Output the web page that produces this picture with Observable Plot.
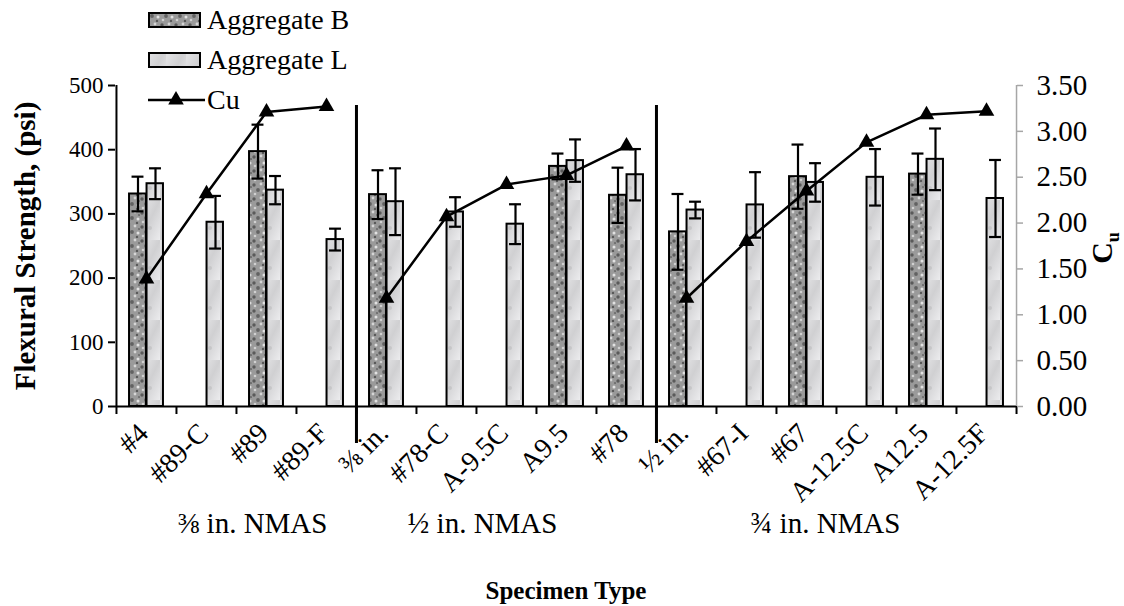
<!DOCTYPE html>
<html>
<head>
<meta charset="utf-8">
<script src="https://cdn.jsdelivr.net/npm/d3@7"></script>
<script src="https://cdn.jsdelivr.net/npm/@observablehq/plot@0.6"></script>
<style>
  body { margin: 0; background: #fff; }
  #wrap { position: relative; width: 1124px; height: 606px; font-family: "Liberation Serif", serif; color: #000; }
  #legend { position: absolute; left: 146px; top: 0; font-size: 28px; }
  .row { display: flex; align-items: center; height: 40px; }
  .row span { margin-left: 2px; }
  #cuTitle { position: absolute; left: 1104px; top: 248px; transform: translate(-50%, -50%) rotate(-90deg); font-size: 30px; font-weight: bold; white-space: nowrap; }
  #cuTitle sub { font-size: 18px; }
</style>
</head>
<body>
<svg width="0" height="0" style="position:absolute">
  <defs>
    <pattern id="patB" patternUnits="userSpaceOnUse" width="14" height="14">
      <rect width="14" height="14" fill="#9a9a9a"/>
      <circle cx="2" cy="3" r="1.7" fill="#5a5a5a"/>
      <circle cx="9" cy="2" r="1.4" fill="#d6d6d6"/>
      <circle cx="6" cy="8" r="1.9" fill="#626262"/>
      <circle cx="12" cy="9" r="1.5" fill="#e2e2e2"/>
      <circle cx="3" cy="12" r="1.3" fill="#d0d0d0"/>
      <circle cx="11" cy="13" r="1.2" fill="#585858"/>
      <circle cx="13" cy="5" r="1.1" fill="#6c6c6c"/>
    </pattern>
    <linearGradient id="gradL" x1="0" y1="0" x2="1" y2="1">
      <stop offset="0" stop-color="#e8e8ea"/>
      <stop offset="0.5" stop-color="#d0d0d2"/>
      <stop offset="1" stop-color="#ececee"/>
    </linearGradient>
    <pattern id="patL" patternUnits="userSpaceOnUse" width="20" height="40">
      <rect width="20" height="40" fill="url(#gradL)"/>
      <circle cx="10" cy="28" r="2" fill="#bfbfc2" opacity="0.7"/>
    </pattern>
  </defs>
</svg>
<div id="wrap">
  <div id="chart"></div>
  <div id="legend"></div>
  <div id="cuTitle">C<sub>u</sub></div>
</div>
<script>
// ---- data ----
const categories = ["#4", "#89-C", "#89", "#89-F", "⅜ in.", "#78-C", "A-9.5C", "A9.5", "#78", "½ in.", "#67-I", "#67", "A-12.5C", "A12.5", "A-12.5F"];
const groups = ["⅜ in. NMAS", "⅜ in. NMAS", "⅜ in. NMAS", "⅜ in. NMAS",
  "½ in. NMAS", "½ in. NMAS", "½ in. NMAS", "½ in. NMAS", "½ in. NMAS",
  "¾ in. NMAS", "¾ in. NMAS", "¾ in. NMAS", "¾ in. NMAS", "¾ in. NMAS", "¾ in. NMAS"];
const aggB    = [331, null, 397, null, 330, null, null, 374, 329, 272, null, 358, null, 362, null];
const aggBErr = [27,  null, 42,  null, 38,  null, null, 20,  43,  59,  null, 50,  null, 32,  null];
const aggL    = [347, 287, 337, 260, 319, 303, 284, 383, 361, 306, 314, 349, 357, 385, 324];
const aggLErr = [24,  41,  22,  17,  52,  23,  31,  33,  40,  13,  51,  30,  44,  48,  60];
const cu      = [1.39, 2.32, 3.21, 3.27, 1.18, 2.07, 2.42, 2.52, 2.84, 1.18, 1.80, 2.35, 2.88, 3.18, 3.22];
const leftTicks = [0, 100, 200, 300, 400, 500];
const cuTicks = [0, 0.5, 1.0, 1.5, 2.0, 2.5, 3.0, 3.5];
const seriesNames = ["Aggregate B", "Aggregate L", "Cu"];
const groupLabelAt = ["#89", "A-9.5C", "#67"];
const groupLabelDx = [-14, -24, 19];

// ---- layout ----
const W = 1124, H = 606, mL = 115, mR = 108, mT = 85, mB = 200;
const bw = (W - mL - mR) / categories.length;
const leftMax = leftTicks[leftTicks.length - 1], rightMax = cuTicks[cuTicks.length - 1];
const k = leftMax / rightMax;

const rows = categories.map((c, i) => ({cat: c, group: groups[i], b: aggB[i], bErr: aggBErr[i], l: aggL[i], lErr: aggLErr[i], cu: cu[i]}));
const rowsB = rows.filter(d => d.b != null);
const groupNames = [...new Set(groups)];
const groupStarts = groupNames.slice(1).map(g => categories[groups.indexOf(g)]);

const half = bw / 2, barW = 17, capW = 6;

const groupLabelMarks = groupNames.map((g, i) =>
  Plot.text([g], {x: () => groupLabelAt[i], text: d => d, frameAnchor: "bottom", lineAnchor: "middle", dy: 117, dx: groupLabelDx[i], fontSize: 29}));

const chart = Plot.plot({
  width: W, height: H,
  marginLeft: mL, marginRight: mR, marginTop: mT, marginBottom: mB,
  x: {type: "band", domain: categories, padding: 0},
  y: {domain: [0, leftMax]},
  style: {fontFamily: "Liberation Serif, serif", fontSize: "22px", color: "black", background: "white", overflow: "visible"},
  marks: [
    // bars
    Plot.barY(rowsB, {x: "cat", y: "b", fill: "url(#patB)", stroke: "black", strokeWidth: 2, insetLeft: half - barW, insetRight: half}),
    Plot.barY(rows, {x: "cat", y: "l", fill: "url(#patL)", stroke: "black", strokeWidth: 2, insetLeft: half + 0.5, insetRight: half - barW}),
    // error bars
    Plot.ruleX(rowsB, {x: "cat", y1: d => d.b - d.bErr, y2: d => d.b + d.bErr, dx: -barW / 2, strokeWidth: 2.2}),
    Plot.tickY(rowsB, {x: "cat", y: d => d.b + d.bErr, insetLeft: half - barW / 2 - capW, insetRight: half + barW / 2 - capW, strokeWidth: 2.2}),
    Plot.tickY(rowsB, {x: "cat", y: d => d.b - d.bErr, insetLeft: half - barW / 2 - capW, insetRight: half + barW / 2 - capW, strokeWidth: 2.2}),
    Plot.ruleX(rows, {x: "cat", y1: d => d.l - d.lErr, y2: d => d.l + d.lErr, dx: barW / 2 + 0.5, strokeWidth: 2.2}),
    Plot.tickY(rows, {x: "cat", y: d => d.l + d.lErr, insetLeft: half + barW / 2 + 0.5 - capW, insetRight: half - barW / 2 - 0.5 - capW, strokeWidth: 2.2}),
    Plot.tickY(rows, {x: "cat", y: d => d.l - d.lErr, insetLeft: half + barW / 2 + 0.5 - capW, insetRight: half - barW / 2 - 0.5 - capW, strokeWidth: 2.2}),
    // group separators
    Plot.ruleX(groupStarts, {x: d => d, dx: -half, insetTop: 20, insetBottom: -37, strokeWidth: 3}),
    // x axis boundary ticks
    Plot.ruleX(categories, {x: d => d, dx: -half, insetTop: H - mT - mB, insetBottom: -8, strokeWidth: 2}),
    Plot.ruleX(categories.slice(-1), {x: d => d, dx: half, insetTop: H - mT - mB, insetBottom: -8, strokeWidth: 2}),
    // axis lines
    Plot.ruleY([0], {strokeWidth: 2}),
    Plot.ruleX(categories.slice(0, 1), {x: d => d, dx: -half, strokeWidth: 2}),
    Plot.ruleX(categories.slice(-1), {x: d => d, dx: half, stroke: "#a6a6a6", strokeWidth: 1.5}),
    // Cu line
    Plot.line(rows, {x: "cat", y: d => d.cu * k, z: "group", stroke: "black", strokeWidth: 2.5}),
    Plot.dot(rows, {x: "cat", y: d => d.cu * k, symbol: "triangle", r: 5.8, fill: "black", stroke: "none"}),
    // axes
    Plot.axisY(leftTicks, {anchor: "left", tickSize: 7, tickPadding: 5, strokeWidth: 2, label: null, fontSize: 23}),
    Plot.axisY(cuTicks.map(c => c * k), {anchor: "right", tickSize: 6, tickPadding: 14, stroke: "#a6a6a6", strokeWidth: 1.5, fill: "black", label: null, fontSize: 29, tickFormat: d => (d / k).toFixed(2)}),
    Plot.axisX({tickSize: 0, tickPadding: 22, tickRotate: -45, dx: -3, label: null, fontSize: 28}),
    // titles and group labels
    Plot.text(["Flexural Strength, (psi)"], {frameAnchor: "left", textAnchor: "middle", rotate: -90, dx: -90, fontWeight: "bold", fontSize: 29}),
    Plot.text(["Specimen Type"], {frameAnchor: "bottom", lineAnchor: "middle", dy: 184, fontWeight: "bold", fontSize: 25}),
    ...groupLabelMarks
  ]
});

document.getElementById("chart").appendChild(chart);

// legend
const legend = d3.select("#legend");
seriesNames.forEach((name, i) => {
  const row = legend.append("div").attr("class", "row");
  const svg = row.append("svg").attr("width", 59).attr("height", 24);
  if (i < 2) {
    svg.append("rect").attr("x", 3).attr("y", 5).attr("width", 51).attr("height", 14)
      .attr("fill", i === 0 ? "url(#patB)" : "url(#patL)").attr("stroke", "black").attr("stroke-width", 2);
  } else {
    svg.append("line").attr("x1", 2).attr("x2", 59).attr("y1", 12).attr("y2", 12).attr("stroke", "black").attr("stroke-width", 2.5);
    svg.append("path").attr("d", d3.symbol(d3.symbolTriangle, Math.PI * 5.8 * 5.8)()).attr("transform", "translate(30,12)").attr("fill", "black");
  }
  row.append("span").text(name);
});
</script>
</body>
</html>
